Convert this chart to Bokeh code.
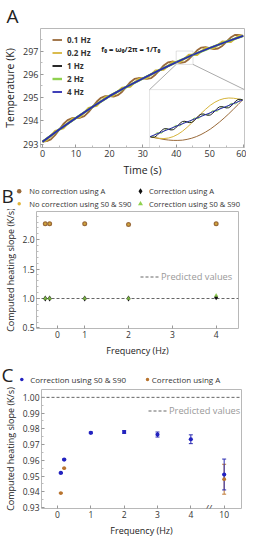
from bokeh.plotting import figure
from bokeh.models import (Range1d, FixedTicker, Legend, LegendItem, Label, BoxAnnotation,
                          Whisker, TeeHead, ColumnDataSource)
from bokeh.layouts import column
from bokeh.embed import file_html
from bokeh.resources import INLINE

FONT = "Open Sans"

# ---------------- Panel A data (temperature vs time) ----------------
time_osc = [0, 1.25, 2.5, 3.75, 5, 6.25, 7.5, 8.75,
            10, 11.25, 12.5, 13.75, 15, 16.25, 17.5, 18.75,
            20, 21.25, 22.5, 23.75, 25, 26.25, 27.5, 28.75,
            30, 31.25, 32.5, 33.75, 35, 36.25, 37.5, 38.75,
            40, 41.25, 42.5, 43.75, 45, 46.25, 47.5, 48.75,
            50, 51.25, 52.5, 53.75, 55, 56.25, 57.5, 58.75, 60]
temp_01hz = [293.10, 293.12, 293.20, 293.38, 293.62, 293.86, 294.03, 294.11,
             294.12, 294.13, 294.20, 294.37, 294.60, 294.83, 294.99, 295.06,
             295.06, 295.04, 295.10, 295.24, 295.45, 295.66, 295.80, 295.84,
             295.82, 295.80, 295.84, 295.98, 296.18, 296.38, 296.51, 296.55,
             296.52, 296.49, 296.52, 296.65, 296.84, 297.03, 297.15, 297.17,
             297.13, 297.08, 297.11, 297.22, 297.40, 297.58, 297.69, 297.70, 297.65]
temp_02hz = [293.10, 293.15, 293.36, 293.57, 293.62, 293.67, 293.87, 294.08,
             294.12, 294.16, 294.36, 294.56, 294.60, 294.64, 294.83, 295.03,
             295.06, 295.08, 295.26, 295.43, 295.45, 295.46, 295.64, 295.81,
             295.82, 295.83, 296.00, 296.17, 296.18, 296.19, 296.35, 296.52,
             296.52, 296.52, 296.68, 296.84, 296.84, 296.83, 296.99, 297.14,
             297.13, 297.12, 297.27, 297.41, 297.40, 297.38, 297.53, 297.67, 297.65]
time_5s = [0, 5, 10, 15, 20, 25, 30, 35, 40, 45, 50, 55, 60]
temp_1hz = [293.10, 293.62, 294.12, 294.60, 295.06, 295.45, 295.82, 296.18, 296.52, 296.84, 297.13, 297.40, 297.65]
temp_2hz = [293.10, 293.62, 294.12, 294.60, 295.06, 295.45, 295.82, 296.18, 296.52, 296.84, 297.13, 297.40, 297.65]
temp_4hz = [293.10, 293.62, 294.12, 294.60, 295.06, 295.45, 295.82, 296.18, 296.52, 296.84, 297.13, 297.40, 297.65]

# inset (zoom on 40-45 s)
time_in_slow = [40, 40.25, 40.5, 40.75, 41, 41.25, 41.5, 41.75, 42, 42.25, 42.5,
                42.75, 43, 43.25, 43.5, 43.75, 44, 44.25, 44.5, 44.75, 45]
inset_01hz = [296.520, 296.511, 296.503, 296.495, 296.490, 296.487, 296.487, 296.489, 296.496, 296.506, 296.520,
              296.538, 296.560, 296.585, 296.615, 296.647, 296.682, 296.719, 296.759, 296.799, 296.840]
inset_02hz = [296.520, 296.511, 296.505, 296.503, 296.508, 296.520, 296.540, 296.567, 296.601, 296.639, 296.680,
              296.721, 296.759, 296.793, 296.820, 296.840, 296.852, 296.857, 296.855, 296.849, 296.840]
time_in_fast = [40, 40.125, 40.25, 40.375, 40.5, 40.625, 40.75, 40.875,
                41, 41.125, 41.25, 41.375, 41.5, 41.625, 41.75, 41.875,
                42, 42.125, 42.25, 42.375, 42.5, 42.625, 42.75, 42.875,
                43, 43.125, 43.25, 43.375, 43.5, 43.625, 43.75, 43.875,
                44, 44.125, 44.25, 44.375, 44.5, 44.625, 44.75, 44.875, 45]
inset_1hz = [296.520, 296.514, 296.516, 296.530, 296.552, 296.574, 296.588, 296.590,
             296.584, 296.578, 296.580, 296.594, 296.616, 296.638, 296.652, 296.654,
             296.648, 296.642, 296.644, 296.658, 296.680, 296.702, 296.716, 296.718,
             296.712, 296.706, 296.708, 296.722, 296.744, 296.766, 296.780, 296.782,
             296.776, 296.770, 296.772, 296.786, 296.808, 296.830, 296.844, 296.846, 296.840]
inset_2hz = [296.520, 296.518, 296.536, 296.554, 296.552, 296.550, 296.568, 296.586,
             296.584, 296.582, 296.600, 296.618, 296.616, 296.614, 296.632, 296.650,
             296.648, 296.646, 296.664, 296.682, 296.680, 296.678, 296.696, 296.714,
             296.712, 296.710, 296.728, 296.746, 296.744, 296.742, 296.760, 296.778,
             296.776, 296.774, 296.792, 296.810, 296.808, 296.806, 296.824, 296.842, 296.840]
time_in_4 = [40, 41, 42, 43, 44, 45]
inset_4hz = [296.520, 296.584, 296.648, 296.712, 296.776, 296.840]

series_labels = ["0.1 Hz", "0.2 Hz", "1 Hz", "2 Hz", "4 Hz"]
time_ticks = [0, 10, 20, 30, 40, 50, 60]
temp_ticks = [293, 294, 295, 296, 297]

# ---------------- Panel B data ----------------
freq_b = [0.1, 0.2, 1, 2, 4]
nocorr_A_b = [2.27, 2.27, 2.27, 2.26, 2.27]
nocorr_S_b = [2.27, 2.27, 2.27, 2.26, 2.27]
corr_A_b = [1.00, 1.00, 1.00, 1.00, 1.02]
corr_S_b = [1.00, 1.00, 1.00, 1.00, 1.05]
predicted_b = 1.0
b_xticks = [0.375, 1, 2, 3, 4]
b_xlabels = {0.375: "0"}
b_yticks = [0.5, 1.0, 1.5, 2.0]
b_keys = ["No correction using A", "No correction using S0 & S90",
          "Correction using A", "Correction using S0 & S90"]

# ---------------- Panel C data ----------------
xpos_c = [0.1, 0.2, 1, 2, 3, 4, 5]          # 10 Hz drawn after the axis break
corr_S_c = [0.952, 0.9605, 0.9775, 0.978, 0.9764, 0.9734, 0.951]
err_S_c = [0.0003, 0.0003, 0.0005, 0.0009, 0.0016, 0.0028, 0.0098]
xpos_A_c = [0.1, 0.2, 5]
corr_A_c = [0.9392, 0.955, 0.948]
err_A_c = [0.0, 0.0, 0.0095]
predicted_c = 1.0
c_xticks = [0, 1, 2, 3, 4, 5]
c_xlabels = {5: "10"}
c_yticks = [0.93, 0.94, 0.95, 0.96, 0.97, 0.98, 0.99, 1.00]
c_keys = ["Correction using S0 & S90", "Correction using A"]

C_BROWN = "#9a6a3a"
C_GOLD = "#d6b43a"
C_GREEN = "#8fd14f"
C_BLUE = "#2b2bb0"
C_DOT_BLUE = "#2222c0"
C_DOT_BROWN = "#b8742f"
C_NOCORR_S = "#e0b43a"

W = 241


def style(p, xlabel, ylabel, tick_size, lab_size):
    p.xgrid.visible = False
    p.ygrid.visible = False
    p.outline_line_color = "#b8b8b8"
    p.background_fill_color = "white"
    p.border_fill_color = "white"
    p.xaxis.axis_label = xlabel
    p.yaxis.axis_label = ylabel
    for ax in (p.xaxis[0], p.yaxis[0]):
        ax.axis_line_color = None
        ax.major_tick_in = 3
        ax.major_tick_out = 0
        ax.minor_tick_in = 2
        ax.minor_tick_out = 0
        ax.major_tick_line_color = "#999999"
        ax.minor_tick_line_color = "#bbbbbb"
        ax.major_label_text_font = FONT
        ax.major_label_text_font_size = tick_size
        ax.major_label_text_color = "#333333"
        ax.axis_label_text_font = FONT
        ax.axis_label_text_font_style = "normal"
        ax.axis_label_text_font_size = lab_size
        ax.axis_label_text_color = "#222222"
        ax.major_label_standoff = 2
        ax.axis_label_standoff = 3


def legend(items, loc, size, standoff, gw, h=11, spacing=2, bold=False, color="#333333"):
    lg = Legend(items=items, location=loc, orientation="vertical",
                border_line_color=None, background_fill_alpha=0,
                padding=0, margin=0, spacing=spacing,
                label_text_font=FONT, label_text_font_size=size,
                label_text_color=color, label_standoff=standoff,
                glyph_width=gw, glyph_height=h, label_height=h)
    if bold:
        lg.label_text_font_style = "bold"
    return lg


def header(h):
    # strip above a panel: x/y data units are pixels from its left/bottom edge
    f = figure(frame_width=W, frame_height=h, x_range=Range1d(0, W), y_range=Range1d(0, h),
               x_axis_location=None, y_axis_location=None, frame_align=False,
               min_border_left=0, min_border_right=0, min_border_top=0, min_border_bottom=0,
               output_backend="svg", toolbar_location=None)
    f.outline_line_color = None
    f.xgrid.visible = False
    f.ygrid.visible = False
    return f


def letter(fig, text, baseline):
    fig.add_layout(Label(x=1, y=baseline, text=text, text_font=FONT, text_font_size="19px",
                         text_color="#222222", text_baseline="alphabetic"))


def key_text(fig, text, x, y, size="8px"):
    fig.add_layout(Label(x=x, y=y, text=text, text_font=FONT, text_font_size=size,
                         text_color="#333333", text_baseline="middle"))

# ================= Panel A =================
AX0, AX1 = -0.6, 60.4
AY0, AY1 = 292.85, 297.97
A_FH = 119
pA = figure(frame_width=204, frame_height=A_FH, min_border_left=35, min_border_right=2,
            min_border_top=0, min_border_bottom=32, frame_align=False, title="A",
            x_range=Range1d(AX0, AX1), y_range=Range1d(AY0, AY1),
            output_backend="svg", toolbar_location=None)
pA.title.align = "left"
pA.title.offset = -34
pA.title.standoff = 0
pA.title.text_font = FONT
pA.title.text_font_size = "19px"
pA.title.text_font_style = "normal"
pA.title.text_color = "#222222"
style(pA, "Time (s)", "Temperature (K)", "9px", "10.5px")
pA.xaxis.ticker = FixedTicker(ticks=time_ticks, minor_ticks=[5, 15, 25, 35, 45, 55])
pA.yaxis.ticker = FixedTicker(ticks=temp_ticks, minor_ticks=[293.5, 294.5, 295.5, 296.5, 297.5])

r01 = pA.line(time_osc, temp_01hz, line_color=C_BROWN, line_width=1.8)
r02 = pA.line(time_osc, temp_02hz, line_color=C_GOLD, line_width=1.8)
r1 = pA.line(time_5s, temp_1hz, line_color="#111111", line_width=1.8)
r2 = pA.line(time_5s, temp_2hz, line_color=C_GREEN, line_width=2.4)
r4 = pA.line(time_5s, temp_4hz, line_color=C_BLUE, line_width=1.8)

# inset: box in main coordinates, curves through extra ranges
box_l, box_r, box_b, box_t = 32.0, AX1, AY0, 295.34
in_x0, in_x1 = 39.97, 45.1
in_y0, in_y1 = 296.425, 296.93
sx = (in_x1 - in_x0) / (box_r - box_l)
sy = (in_y1 - in_y0) / (box_t - box_b)
pA.extra_x_ranges = {"ix": Range1d(in_x0 - (box_l - AX0) * sx, in_x1 + (AX1 - box_r) * sx)}
pA.extra_y_ranges = {"iy": Range1d(in_y0 - (box_b - AY0) * sy, in_y1 + (AY1 - box_t) * sy)}
pA.add_layout(BoxAnnotation(left=box_l, right=box_r, bottom=box_b, top=box_t,
                            fill_color="white", fill_alpha=1.0, line_color="#aaaaaa",
                            line_width=1, level="underlay"))
pA.add_layout(BoxAnnotation(left=in_x0, right=in_x1 - 0.1, bottom=in_y0, top=in_y1 + 0.07,
                            fill_alpha=0, line_color="#9a9a9a", line_width=1, level="overlay"))
pA.segment(x0=[in_x0, in_x1 - 0.1], y0=[in_y0, in_y0], x1=[box_l, box_r], y1=[box_t, box_t],
           line_color="#aaaaaa", line_width=1)
for tt, yy, col, lw in [(time_in_slow, inset_01hz, C_BROWN, 1.0),
                        (time_in_slow, inset_02hz, C_GOLD, 1.0),
                        (time_in_fast, inset_2hz, C_GREEN, 1.0),
                        (time_in_fast, inset_1hz, "#111111", 0.9),
                        (time_in_4, inset_4hz, C_BLUE, 1.0)]:
    pA.line(tt, yy, x_range_name="ix", y_range_name="iy", line_color=col, line_width=lw)

pA.add_layout(legend([LegendItem(label=lab, renderers=[r]) for lab, r in
                      zip(series_labels, [r01, r02, r1, r2, r4])],
                     (12, 50), "8px", 5, 10, bold=True))
pA.add_layout(Label(x=17.6, y=297.09, text="f\u2080 = \u03c9\u2080/2\u03c0 = 1/T\u2080",
                    text_font=FONT, text_font_size="7.5px", text_font_style="bold",
                    text_color="#222222", text_baseline="middle"))

# ================= header B (letter + key) =================
hB = header(30)
letter(hB, "B", 14)
hB.scatter([18.7], [18.3], marker="circle", size=4.5, fill_color=C_BROWN, line_color=None)
hB.scatter([18.7], [5.7], marker="circle", size=3.5, fill_color=C_NOCORR_S, line_color=None)
hB.scatter([140], [18.3], marker="diamond", size=6, fill_color="#111111", line_color=None)
hB.scatter([140], [5.7], marker="triangle", size=5, fill_color=C_GREEN, line_color=None)
key_text(hB, b_keys[0], 28.7, 18.3, "7.6px")
key_text(hB, b_keys[1], 28.7, 5.7, "7.6px")
key_text(hB, b_keys[2], 148.5, 18.3, "7.6px")
key_text(hB, b_keys[3], 148.5, 5.7, "7.6px")

# ================= Panel B =================
B_FH = 117
BX0, BX1 = -0.1, 4.51
pB = figure(frame_width=202, frame_height=B_FH, min_border_left=36, min_border_right=3,
            min_border_top=2, min_border_bottom=28, frame_align=False,
            x_range=Range1d(BX0, BX1), y_range=Range1d(0.49, 2.48),
            output_backend="svg", toolbar_location=None)
style(pB, "Frequency (Hz)", "Computed heating slope (K/s)", "8.5px", "9px")
pB.xaxis.ticker = FixedTicker(ticks=b_xticks)
pB.xaxis.major_label_overrides = b_xlabels
pB.yaxis.ticker = FixedTicker(ticks=b_yticks, minor_ticks=[0.6, 0.7, 0.8, 0.9, 1.1, 1.2, 1.3, 1.4, 1.6, 1.7, 1.8, 1.9, 2.1, 2.2, 2.3, 2.4])
pB.yaxis.major_label_overrides = {0.5: "0.5", 1.0: "1.0", 1.5: "1.5", 2.0: "2.0"}

r_pb = pB.line([BX0, BX1], [predicted_b, predicted_b], line_color="#555555", line_width=0.9, line_dash="3 2")
pB.scatter(freq_b, nocorr_A_b, marker="circle", size=5, fill_color=C_BROWN, line_color=None)
pB.scatter(freq_b, nocorr_S_b, marker="circle", size=2.5, fill_color=C_NOCORR_S, line_color=None, fill_alpha=0.8)
pB.scatter(freq_b, corr_A_b, marker="diamond", size=6, fill_color="#111111", line_color=None)
pB.scatter(freq_b, corr_S_b, marker="triangle", size=4.5, fill_color=C_GREEN, line_color=None, fill_alpha=0.85)
pB.add_layout(legend([LegendItem(label="Predicted values", renderers=[r_pb])],
                     (104, 45), "9.3px", 2, 19, h=13, color="#999999"))

# ================= header C (letter + key) =================
hC = header(28)
letter(hC, "C", 13)
hC.scatter([21.3], [8], marker="circle", size=3.5, fill_color=C_DOT_BLUE, line_color=None)
hC.scatter([147], [8], marker="circle", size=3.5, fill_color=C_DOT_BROWN, line_color=None)
key_text(hC, c_keys[0], 29.7, 8)
key_text(hC, c_keys[1], 151.3, 8)

# ================= Panel C =================
C_FH = 119
CX0, CX1 = -0.48, 5.52
pC = figure(frame_width=200, frame_height=C_FH, min_border_left=37, min_border_right=4,
            min_border_top=2, min_border_bottom=28, frame_align=False,
            x_range=Range1d(CX0, CX1), y_range=Range1d(0.9294, 1.005),
            output_backend="svg", toolbar_location=None)
style(pC, "Frequency (Hz)", "Computed heating slope (K/s)", "8.5px", "9px")
pC.xaxis.ticker = FixedTicker(ticks=c_xticks)
pC.xaxis.major_label_overrides = c_xlabels
pC.yaxis.ticker = FixedTicker(ticks=c_yticks, minor_ticks=[0.935, 0.945, 0.955, 0.965, 0.975, 0.985, 0.995])
pC.yaxis.major_label_overrides = {v: "%.2f" % v for v in c_yticks}

r_pc = pC.line([CX0, CX1], [predicted_c, predicted_c], line_color="#555555", line_width=0.9, line_dash="3 2")
srcS = ColumnDataSource(dict(x=xpos_c, y=corr_S_c,
                             lo=[v - e for v, e in zip(corr_S_c, err_S_c)],
                             hi=[v + e for v, e in zip(corr_S_c, err_S_c)]))
srcA = ColumnDataSource(dict(x=xpos_A_c, y=corr_A_c,
                             lo=[v - e for v, e in zip(corr_A_c, err_A_c)],
                             hi=[v + e for v, e in zip(corr_A_c, err_A_c)]))
pC.add_layout(Whisker(source=srcA, base="x", lower="lo", upper="hi", line_color="#c07a35", line_width=1,
                      upper_head=TeeHead(size=4, line_color="#c07a35"),
                      lower_head=TeeHead(size=4, line_color="#c07a35")))
pC.add_layout(Whisker(source=srcS, base="x", lower="lo", upper="hi", line_color=C_BLUE, line_width=1,
                      upper_head=TeeHead(size=4, line_color=C_BLUE),
                      lower_head=TeeHead(size=4, line_color=C_BLUE)))
pC.scatter("x", "y", source=srcS, marker="circle", size=4.2, fill_color=C_DOT_BLUE, line_color=None)
pC.scatter("x", "y", source=srcA, marker="circle", size=3.8, fill_color=C_DOT_BROWN, line_color=None)
pC.add_layout(legend([LegendItem(label="Predicted values", renderers=[r_pc])],
                     (107, 91), "9.3px", 2, 19, h=13, color="#999999"))
pC.add_layout(Label(x=4.52, y=0.9294, text="//", text_font=FONT, text_font_size="9px",
                    text_font_style="italic", text_color="#333333",
                    text_align="center", text_baseline="middle"))

layout = column(pA, hB, pB, hC, pC, spacing=0)
open("out.html", "w").write(file_html(layout, INLINE))
